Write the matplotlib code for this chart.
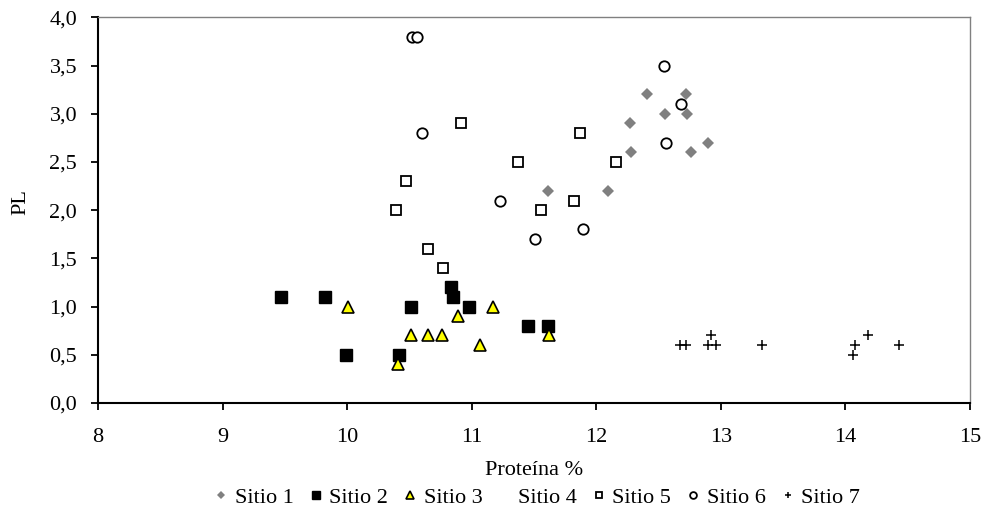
import matplotlib.pyplot as plt
from matplotlib.ticker import FuncFormatter

plt.rcParams['font.family'] = ['Liberation Serif', 'DejaVu Serif']

# Sitio 1 (gray diamonds)
s1_x = [12.41, 12.72, 12.55, 12.73, 12.27, 12.28, 12.76, 12.90, 12.09, 11.61]
s1_y = [3.2, 3.2, 3.0, 3.0, 2.9, 2.6, 2.6, 2.7, 2.2, 2.2]
# Sitio 2 (black squares)
s2_x = [9.47, 9.82, 9.99, 10.42, 10.51, 10.83, 10.85, 10.98, 11.45, 11.61]
s2_y = [1.1, 1.1, 0.5, 0.5, 1.0, 1.2, 1.1, 1.0, 0.8, 0.8]
# Sitio 3 (yellow triangles)
s3_x = [10.01, 10.51, 10.65, 10.76, 10.89, 11.07, 11.17, 11.62, 10.41]
s3_y = [1.0, 0.7, 0.7, 0.7, 0.9, 0.6, 1.0, 0.7, 0.4]
# Sitio 4 (no visible points)
s4_x = []
s4_y = []
# Sitio 5 (open squares)
s5_x = [10.39, 10.47, 10.65, 10.77, 10.91, 11.37, 11.56, 11.82, 11.87, 12.16]
s5_y = [2.0, 2.3, 1.6, 1.4, 2.9, 2.5, 2.0, 2.1, 2.8, 2.5]
# Sitio 6 (open circles)
s6_x = [10.52, 10.56, 10.60, 11.23, 11.51, 12.54, 12.68, 12.56, 11.89]
s6_y = [3.8, 3.8, 2.8, 2.1, 1.7, 3.5, 3.1, 2.7, 1.8]
# Sitio 7 (plus)
s7_x = [12.67, 12.72, 12.90, 12.96, 12.92, 13.33, 14.08, 14.06, 14.18, 14.43]
s7_y = [0.6, 0.6, 0.6, 0.6, 0.7, 0.6, 0.6, 0.5, 0.7, 0.6]

fig = plt.figure(figsize=(9.86, 5.12), dpi=100)
ax = fig.add_axes([0.0994, 0.2129, 0.8844, 0.7533])

ax.plot(s1_x, s1_y, 'D', color='#808080', markersize=6.5, markeredgewidth=0, label='Sitio 1')
ax.plot(s2_x, s2_y, 's', color='black', markersize=8, label='Sitio 2')
ax.plot(s3_x, s3_y, '^', markerfacecolor='#FFFF00', markeredgecolor='black',
        markeredgewidth=1.2, markersize=8, label='Sitio 3')
ax.plot(s4_x, s4_y, 'o', color='white', markersize=0, label='Sitio 4')
ax.plot(s5_x, s5_y, 's', markerfacecolor='white', markeredgecolor='black',
        markeredgewidth=1.3, markersize=7.5, label='Sitio 5')
ax.plot(s6_x, s6_y, 'o', markerfacecolor='white', markeredgecolor='black',
        markeredgewidth=1.3, markersize=7.5, label='Sitio 6')
ax.plot(s7_x, s7_y, '+', color='black', markersize=7.5, markeredgewidth=1.1, label='Sitio 7')

ax.set_xlim(8, 15)
ax.set_ylim(0, 4)
ax.set_xticks(range(8, 16))
ax.set_yticks([i * 0.5 for i in range(9)])
ax.yaxis.set_major_formatter(FuncFormatter(lambda v, p: f"{v:.1f}".replace('.', ',')))

for s in ['left', 'bottom']:
    ax.spines[s].set_color('black')
    ax.spines[s].set_linewidth(1.5)
for s in ['top', 'right']:
    ax.spines[s].set_color('#808080')
    ax.spines[s].set_linewidth(1)
ax.tick_params(direction='out', length=5, width=1.3, labelsize=16, colors='black')
ax.tick_params(axis='x', pad=13)
ax.tick_params(axis='y', pad=10)

ax.set_xlabel('Proteína %', fontsize=16)
ax.xaxis.set_label_coords(0.5, -0.174)
ax.xaxis.label.set_va('center')
ax.set_ylabel('PL', fontsize=16)
ax.yaxis.set_label_coords(-0.0886, 0.522)
ax.yaxis.label.set_va('center')

fig.legend(loc='center', bbox_to_anchor=(0.545, 0.028), ncol=7, frameon=False,
           fontsize=16, markerscale=0.65, handlelength=0.6, handletextpad=0.3,
           columnspacing=0.7, borderpad=0)

fig.savefig('out.png', dpi=100)
